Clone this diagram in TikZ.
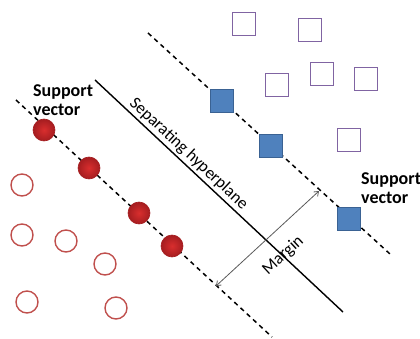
\documentclass[tikz,border=0pt]{standalone}
\usepackage{fontspec}
\setmainfont{Carlito}
\usetikzlibrary{arrows.meta}
\definecolor{DotRed}{HTML}{D92E2E}
\definecolor{DotRedDark}{HTML}{A51D20}
\definecolor{RingRed}{HTML}{C0504D}
\definecolor{BoxBlue}{HTML}{4F81BD}
\definecolor{BoxBlueDark}{HTML}{3A6293}
\definecolor{BoxPurple}{HTML}{8064A2}
\tikzset{%
  SupportDot/.style={circle,inner color=DotRed,outer color=DotRedDark,draw=DotRedDark,
    line width=0.6pt,minimum size=22pt,inner sep=0pt},
  OpenDot/.style={circle,draw=RingRed,line width=1.4pt,minimum size=22pt,inner sep=0pt},
  SupportBox/.style={rectangle,fill=BoxBlue,draw=BoxBlueDark,line width=1pt,
    minimum size=23pt,inner sep=0pt},
  OpenBox/.style={rectangle,draw=BoxPurple,line width=1.5pt,minimum size=23pt,inner sep=0pt},
  MarginLine/.style={dash pattern=on 4.5pt off 4pt,line width=1.5pt},
  LabelText/.style={font=\fontsize{17}{19}\selectfont},
  SvText/.style={font=\fontsize{18}{19}\selectfont\bfseries,align=left,inner sep=0pt}
}

\begin{document}
\begin{tikzpicture}[x=1pt,y=-1pt]
  \useasboundingbox (0,0) rectangle (420,339);
  % lines
  \coordinate (lowA) at (16,100);
  \coordinate (lowB) at (272,337);
  \coordinate (upA) at (148,33);
  \coordinate (upB) at (390,254);
  \coordinate (hypA) at (95,80);
  \coordinate (hypB) at (343,312);
  \draw[MarginLine] (lowA) -- (lowB);
  \draw[MarginLine] (upA) -- (upB);
  \draw[line width=1.4pt] (hypA) -- (hypB)
    node[LabelText,pos=0.35,sloped,above,inner sep=2pt]{Separating hyperplane};
  % margin
  \coordinate (mA) at (216,286);
  \coordinate (mB) at (319,191);
  \draw[gray!70!black,line width=0.8pt,{Straight Barb[length=4pt,width=6pt]}-{Straight Barb[length=4pt,width=6pt]}]
    (mA) -- (mB) node[LabelText,black,midway,sloped,below=12pt]{Margin};
  % class one
  \foreach \pos [count=\xi] in {(44,130),(89,168),(139,213),(172,246)}
    { \node[SupportDot] (sd\xi) at \pos {}; }
  \foreach \pos [count=\xi] in {(22,185),(22,235),(66,241),(105,264),(27,302),(116,308)}
    { \node[OpenDot] (od\xi) at \pos {}; }
  % class two
  \foreach \pos [count=\xi] in {(222,101),(271,146),(349,219)}
    { \node[SupportBox] (sb\xi) at \pos {}; }
  \foreach \pos [count=\xi] in {(244,24),(310,30),(277,85),(322,74),(366,79),(349,140)}
    { \node[OpenBox] (ob\xi) at \pos {}; }
  % labels
  \node[SvText,anchor=north west] (svLeft) at (33,84) {Support\\vector};
  \node[SvText,anchor=north west] (svRight) at (361,172) {Support\\vector};
\end{tikzpicture}
\end{document}
